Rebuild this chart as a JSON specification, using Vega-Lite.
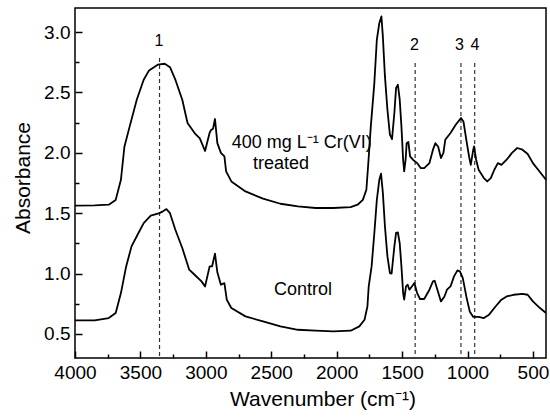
{
  "$schema": "https://vega.github.io/schema/vega-lite/v6.json",
  "width": 471,
  "height": 350,
  "autosize": "none",
  "padding": {"left": 75, "top": 8, "right": 4, "bottom": 60},
  "background": "white",
  "config": {
    "view": {"stroke": "black", "strokeWidth": 1.5},
    "font": "Liberation Sans",
    "axis": {"domain": false, "grid": false, "tickColor": "black", "labelColor": "black", "titleColor": "black", "labelFont": "Liberation Sans", "titleFont": "Liberation Sans", "labelFontSize": 19, "titleFontSize": 21, "titleFontWeight": "normal", "tickWidth": 1.5}
  },
  "resolve": {"axis": {"x": "independent", "y": "independent"}},
  "datasets": {
    "spec": [
      {"s": "treated", "wn": 4000, "a": 1.562},
      {"s": "treated", "wn": 3850, "a": 1.565},
      {"s": "treated", "wn": 3742, "a": 1.57},
      {"s": "treated", "wn": 3689, "a": 1.61},
      {"s": "treated", "wn": 3649, "a": 1.777},
      {"s": "treated", "wn": 3622, "a": 2.053},
      {"s": "treated", "wn": 3582, "a": 2.219},
      {"s": "treated", "wn": 3528, "a": 2.44},
      {"s": "treated", "wn": 3475, "a": 2.606},
      {"s": "treated", "wn": 3434, "a": 2.683},
      {"s": "treated", "wn": 3368, "a": 2.73},
      {"s": "treated", "wn": 3314, "a": 2.738},
      {"s": "treated", "wn": 3274, "a": 2.71},
      {"s": "treated", "wn": 3233, "a": 2.606},
      {"s": "treated", "wn": 3180, "a": 2.44},
      {"s": "treated", "wn": 3140, "a": 2.247},
      {"s": "treated", "wn": 3086, "a": 2.164},
      {"s": "treated", "wn": 3046, "a": 2.12},
      {"s": "treated", "wn": 3006, "a": 2.015},
      {"s": "treated", "wn": 2971, "a": 2.166},
      {"s": "treated", "wn": 2960, "a": 2.19},
      {"s": "treated", "wn": 2945, "a": 2.2},
      {"s": "treated", "wn": 2930, "a": 2.28},
      {"s": "treated", "wn": 2912, "a": 2.08},
      {"s": "treated", "wn": 2885, "a": 2.0},
      {"s": "treated", "wn": 2858, "a": 1.97},
      {"s": "treated", "wn": 2845, "a": 1.846},
      {"s": "treated", "wn": 2805, "a": 1.763},
      {"s": "treated", "wn": 2697, "a": 1.68},
      {"s": "treated", "wn": 2563, "a": 1.62},
      {"s": "treated", "wn": 2430, "a": 1.578},
      {"s": "treated", "wn": 2296, "a": 1.556},
      {"s": "treated", "wn": 2161, "a": 1.543},
      {"s": "treated", "wn": 2027, "a": 1.543},
      {"s": "treated", "wn": 1893, "a": 1.55},
      {"s": "treated", "wn": 1840, "a": 1.57},
      {"s": "treated", "wn": 1800, "a": 1.61},
      {"s": "treated", "wn": 1773, "a": 1.694},
      {"s": "treated", "wn": 1760, "a": 1.887},
      {"s": "treated", "wn": 1739, "a": 2.219},
      {"s": "treated", "wn": 1712, "a": 2.578},
      {"s": "treated", "wn": 1693, "a": 2.937},
      {"s": "treated", "wn": 1674, "a": 3.075},
      {"s": "treated", "wn": 1658, "a": 3.13},
      {"s": "treated", "wn": 1647, "a": 2.965},
      {"s": "treated", "wn": 1631, "a": 2.633},
      {"s": "treated", "wn": 1612, "a": 2.357},
      {"s": "treated", "wn": 1593, "a": 2.15},
      {"s": "treated", "wn": 1577, "a": 2.114},
      {"s": "treated", "wn": 1559, "a": 2.33},
      {"s": "treated", "wn": 1546, "a": 2.537},
      {"s": "treated", "wn": 1532, "a": 2.564},
      {"s": "treated", "wn": 1518, "a": 2.44},
      {"s": "treated", "wn": 1505, "a": 2.219},
      {"s": "treated", "wn": 1492, "a": 1.943},
      {"s": "treated", "wn": 1484, "a": 1.846},
      {"s": "treated", "wn": 1473, "a": 1.943},
      {"s": "treated", "wn": 1465, "a": 2.08},
      {"s": "treated", "wn": 1452, "a": 2.09},
      {"s": "treated", "wn": 1439, "a": 1.97},
      {"s": "treated", "wn": 1417, "a": 1.943},
      {"s": "treated", "wn": 1385, "a": 1.915},
      {"s": "treated", "wn": 1358, "a": 1.874},
      {"s": "treated", "wn": 1331, "a": 1.874},
      {"s": "treated", "wn": 1291, "a": 1.915},
      {"s": "treated", "wn": 1264, "a": 2.026},
      {"s": "treated", "wn": 1245, "a": 2.08},
      {"s": "treated", "wn": 1224, "a": 2.05},
      {"s": "treated", "wn": 1203, "a": 1.957},
      {"s": "treated", "wn": 1184, "a": 2.0},
      {"s": "treated", "wn": 1170, "a": 2.108},
      {"s": "treated", "wn": 1130, "a": 2.164},
      {"s": "treated", "wn": 1090, "a": 2.233},
      {"s": "treated", "wn": 1050, "a": 2.288},
      {"s": "treated", "wn": 1031, "a": 2.26},
      {"s": "treated", "wn": 1009, "a": 2.108},
      {"s": "treated", "wn": 988, "a": 1.97},
      {"s": "treated", "wn": 975, "a": 1.9},
      {"s": "treated", "wn": 956, "a": 2.026},
      {"s": "treated", "wn": 950, "a": 2.053},
      {"s": "treated", "wn": 934, "a": 1.943},
      {"s": "treated", "wn": 915, "a": 1.86},
      {"s": "treated", "wn": 875, "a": 1.791},
      {"s": "treated", "wn": 849, "a": 1.763},
      {"s": "treated", "wn": 822, "a": 1.79},
      {"s": "treated", "wn": 795, "a": 1.86},
      {"s": "treated", "wn": 768, "a": 1.915},
      {"s": "treated", "wn": 741, "a": 1.9},
      {"s": "treated", "wn": 701, "a": 1.943},
      {"s": "treated", "wn": 660, "a": 2.0},
      {"s": "treated", "wn": 620, "a": 2.04},
      {"s": "treated", "wn": 580, "a": 2.026},
      {"s": "treated", "wn": 540, "a": 1.99},
      {"s": "treated", "wn": 500, "a": 1.915},
      {"s": "treated", "wn": 460, "a": 1.86},
      {"s": "treated", "wn": 400, "a": 1.777},
      {"s": "control", "wn": 4000, "a": 0.612},
      {"s": "control", "wn": 3850, "a": 0.612},
      {"s": "control", "wn": 3742, "a": 0.631},
      {"s": "control", "wn": 3689, "a": 0.673},
      {"s": "control", "wn": 3649, "a": 0.838},
      {"s": "control", "wn": 3609, "a": 1.059},
      {"s": "control", "wn": 3568, "a": 1.225},
      {"s": "control", "wn": 3515, "a": 1.336},
      {"s": "control", "wn": 3475, "a": 1.418},
      {"s": "control", "wn": 3421, "a": 1.479},
      {"s": "control", "wn": 3355, "a": 1.5},
      {"s": "control", "wn": 3328, "a": 1.515},
      {"s": "control", "wn": 3301, "a": 1.534},
      {"s": "control", "wn": 3274, "a": 1.5},
      {"s": "control", "wn": 3233, "a": 1.363},
      {"s": "control", "wn": 3180, "a": 1.211},
      {"s": "control", "wn": 3127, "a": 1.032},
      {"s": "control", "wn": 3086, "a": 0.99},
      {"s": "control", "wn": 3033, "a": 0.935},
      {"s": "control", "wn": 3006, "a": 0.893},
      {"s": "control", "wn": 2971, "a": 1.059},
      {"s": "control", "wn": 2952, "a": 1.06},
      {"s": "control", "wn": 2930, "a": 1.164},
      {"s": "control", "wn": 2912, "a": 1.01},
      {"s": "control", "wn": 2885, "a": 0.907},
      {"s": "control", "wn": 2858, "a": 0.92},
      {"s": "control", "wn": 2840, "a": 0.783},
      {"s": "control", "wn": 2805, "a": 0.714},
      {"s": "control", "wn": 2697, "a": 0.645},
      {"s": "control", "wn": 2563, "a": 0.603},
      {"s": "control", "wn": 2430, "a": 0.562},
      {"s": "control", "wn": 2296, "a": 0.534},
      {"s": "control", "wn": 2161, "a": 0.526},
      {"s": "control", "wn": 2027, "a": 0.52},
      {"s": "control", "wn": 1893, "a": 0.526},
      {"s": "control", "wn": 1827, "a": 0.562},
      {"s": "control", "wn": 1787, "a": 0.617},
      {"s": "control", "wn": 1765, "a": 0.727},
      {"s": "control", "wn": 1755, "a": 0.893},
      {"s": "control", "wn": 1733, "a": 1.059},
      {"s": "control", "wn": 1712, "a": 1.336},
      {"s": "control", "wn": 1693, "a": 1.61},
      {"s": "control", "wn": 1674, "a": 1.777},
      {"s": "control", "wn": 1661, "a": 1.827},
      {"s": "control", "wn": 1647, "a": 1.67},
      {"s": "control", "wn": 1631, "a": 1.39},
      {"s": "control", "wn": 1612, "a": 1.142},
      {"s": "control", "wn": 1593, "a": 1.004},
      {"s": "control", "wn": 1580, "a": 1.0},
      {"s": "control", "wn": 1559, "a": 1.225},
      {"s": "control", "wn": 1546, "a": 1.336},
      {"s": "control", "wn": 1532, "a": 1.34},
      {"s": "control", "wn": 1518, "a": 1.25},
      {"s": "control", "wn": 1505, "a": 1.059},
      {"s": "control", "wn": 1492, "a": 0.838},
      {"s": "control", "wn": 1484, "a": 0.783},
      {"s": "control", "wn": 1470, "a": 0.893},
      {"s": "control", "wn": 1457, "a": 0.907},
      {"s": "control", "wn": 1444, "a": 0.866},
      {"s": "control", "wn": 1425, "a": 0.893},
      {"s": "control", "wn": 1406, "a": 0.921},
      {"s": "control", "wn": 1385, "a": 0.838},
      {"s": "control", "wn": 1363, "a": 0.789},
      {"s": "control", "wn": 1331, "a": 0.789},
      {"s": "control", "wn": 1291, "a": 0.866},
      {"s": "control", "wn": 1264, "a": 0.935},
      {"s": "control", "wn": 1251, "a": 0.94},
      {"s": "control", "wn": 1230, "a": 0.866},
      {"s": "control", "wn": 1203, "a": 0.769},
      {"s": "control", "wn": 1176, "a": 0.81},
      {"s": "control", "wn": 1157, "a": 0.866},
      {"s": "control", "wn": 1130, "a": 0.893},
      {"s": "control", "wn": 1103, "a": 0.976},
      {"s": "control", "wn": 1077, "a": 1.026},
      {"s": "control", "wn": 1058, "a": 1.018},
      {"s": "control", "wn": 1036, "a": 0.962},
      {"s": "control", "wn": 1009, "a": 0.81},
      {"s": "control", "wn": 983, "a": 0.686},
      {"s": "control", "wn": 956, "a": 0.64},
      {"s": "control", "wn": 915, "a": 0.64},
      {"s": "control", "wn": 875, "a": 0.631},
      {"s": "control", "wn": 835, "a": 0.659},
      {"s": "control", "wn": 795, "a": 0.714},
      {"s": "control", "wn": 741, "a": 0.783},
      {"s": "control", "wn": 701, "a": 0.81},
      {"s": "control", "wn": 647, "a": 0.824},
      {"s": "control", "wn": 580, "a": 0.832},
      {"s": "control", "wn": 540, "a": 0.824},
      {"s": "control", "wn": 500, "a": 0.769},
      {"s": "control", "wn": 446, "a": 0.714},
      {"s": "control", "wn": 400, "a": 0.673}
    ],
    "marks": [
      {"wn": 3354, "top": 2.785, "bottom": 0.3},
      {"wn": 1400, "top": 2.745, "bottom": 0.3},
      {"wn": 1050, "top": 2.745, "bottom": 0.3},
      {"wn": 945, "top": 2.745, "bottom": 0.3}
    ],
    "nums": [
      {"wn": 3358, "a": 2.923, "t": "1"},
      {"wn": 1405, "a": 2.896, "t": "2"},
      {"wn": 1062, "a": 2.896, "t": "3"},
      {"wn": 943, "a": 2.896, "t": "4"}
    ],
    "notes": [
      {"wn": 2267, "a": 2.08, "t": "400 mg L⁻¹ Cr(VI)"},
      {"wn": 2425, "a": 1.91, "t": "treated"},
      {"wn": 2257, "a": 0.86, "t": "Control"}
    ]
  },
  "layer": [
    {
      "data": {"name": "marks"},
      "mark": {"type": "rule", "color": "#333333", "strokeWidth": 1.2, "strokeDash": [4, 3]},
      "encoding": {
        "x": {
          "field": "wn", "type": "quantitative",
          "scale": {"domain": [4000, 400], "nice": false, "zero": false},
          "axis": {"orient": "bottom", "title": null, "labels": false, "values": [3750, 3250, 2750, 2250, 1750, 1250, 750], "tickSize": -4}
        },
        "y": {
          "field": "top", "type": "quantitative",
          "scale": {"domain": [0.3, 3.2], "nice": false, "zero": false},
          "axis": {"orient": "left", "title": null, "labels": false, "values": [0.75, 1.25, 1.75, 2.25, 2.75], "tickSize": -4}
        },
        "y2": {"field": "bottom"}
      }
    },
    {
      "data": {"name": "spec"},
      "mark": {"type": "line", "color": "black", "strokeWidth": 1.8, "strokeJoin": "round"},
      "encoding": {
        "x": {
          "field": "wn", "type": "quantitative",
          "scale": {"domain": [4000, 400], "nice": false, "zero": false},
          "axis": {
            "orient": "bottom",
            "title": "Wavenumber (cm⁻¹)",
            "values": [4000, 3500, 3000, 2500, 2000, 1500, 1000, 500],
            "format": "d",
            "tickSize": -7,
            "labelPadding": 12,
            "titlePadding": 6,
            "titleX": 247.5,
            "labelFlush": false,
            "labelOverlap": false
          }
        },
        "y": {
          "field": "a", "type": "quantitative",
          "scale": {"domain": [0.3, 3.2], "nice": false, "zero": false},
          "axis": {
            "orient": "left",
            "title": "Absorbance",
            "values": [0.5, 1.0, 1.5, 2.0, 2.5, 3.0],
            "format": ".1f",
            "tickSize": -7,
            "labelPadding": 12,
            "titlePadding": 10,
            "titleY": 169.5,
            "labelFlush": false,
            "labelOverlap": false
          }
        },
        "detail": {"field": "s"}
      }
    },
    {
      "data": {"name": "nums"},
      "mark": {"type": "text", "fontSize": 16, "font": "Liberation Sans", "color": "black", "baseline": "middle", "align": "center"},
      "encoding": {
        "x": {"field": "wn", "type": "quantitative", "axis": null},
        "y": {"field": "a", "type": "quantitative", "axis": null},
        "text": {"field": "t"}
      }
    },
    {
      "data": {"name": "notes"},
      "mark": {"type": "text", "fontSize": 18, "font": "Liberation Sans", "color": "black", "baseline": "middle", "align": "center"},
      "encoding": {
        "x": {"field": "wn", "type": "quantitative", "axis": null},
        "y": {"field": "a", "type": "quantitative", "axis": null},
        "text": {"field": "t"}
      }
    }
  ]
}
